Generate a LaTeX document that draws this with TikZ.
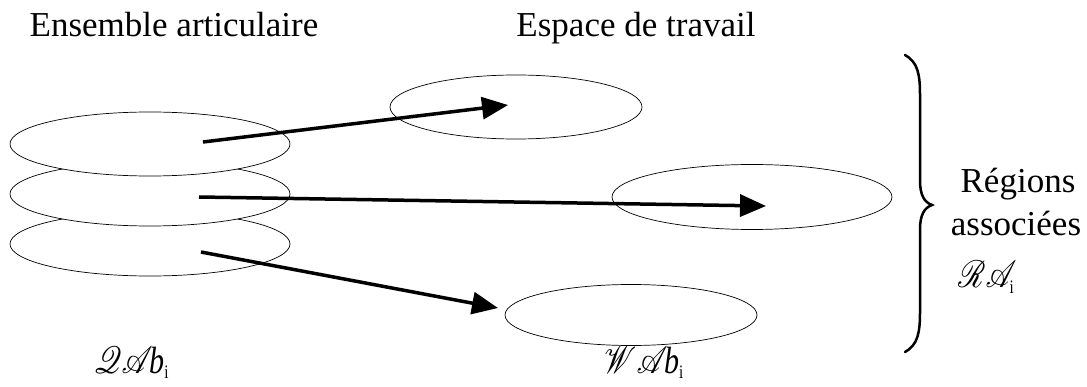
\documentclass[tikz,border=0pt]{standalone}
\usepackage{fontspec}
\setmainfont{Liberation Serif}
\usepackage{mathrsfs}
\usepackage{graphicx}
\usetikzlibrary{arrows.meta,shapes.geometric}
\newcommand{\scrlab}[1]{\scalebox{3}[3.8]{#1}}
\begin{document}
\begin{tikzpicture}[x=1pt,y=-1pt,
  reg/.style={ellipse,draw,fill=white,line width=0.7pt,inner sep=0pt},
  regL/.style={reg,minimum width=280pt,minimum height=64pt},
  regR/.style={reg,minimum width=252pt,minimum height=64pt},
  bigarrow/.style={line width=3.5pt,-{Triangle[length=26pt,width=22pt]}},
  lbl/.style={font=\fontsize{35}{40}\selectfont,inner sep=0pt},
  scr/.style={inner sep=0pt}]
\useasboundingbox (0,0) rectangle (1087,387);
% left stack (bottom drawn first)
\node[regL] (L3) at (150,244) {};
\node[regL] (L2) at (150,194) {};
\node[regL] (L1) at (150,144) {};
% right regions
\node[regR] (R1) at (516,107) {};
\node[reg,minimum width=280pt,minimum height=65pt] (R2) at (752,197) {};
\node[reg,minimum width=252pt,minimum height=61pt] (R3) at (631,315) {};
% arrow anchors
\coordinate (s1) at (203,142);
\coordinate (t1) at (508,105);
\coordinate (s2) at (199,197);
\coordinate (t2) at (766,206);
\coordinate (s3) at (201,252);
\coordinate (t3) at (498,308);
\draw[bigarrow] (s1) -- (t1);
\draw[bigarrow] (s2) -- (t2);
\draw[bigarrow] (s3) -- (t3);
% titles
\node[lbl,anchor=base] (tq) at (174,37) {Ensemble articulaire};
\node[lbl,anchor=base] (tw) at (636,37) {Espace de travail};
\node[lbl,anchor=base] (r1) at (1018,193) {Régions};
\node[lbl,anchor=base] (r2) at (1016,236) {associées};
% script labels
\node[scr,anchor=base west] (qab) at (94,373) {\scrlab{$\mathscr{Q}\mathscr{A}\mkern-2mu\textit{b}_{\scriptscriptstyle\mathrm{i}}$}};
\node[scr,anchor=base west] (wab) at (604,373) {\scrlab{$\mathscr{W}\mathscr{A}\mkern-2mu\textit{b}_{\scriptscriptstyle\mathrm{i}}$}};
\node[scr,anchor=base west] (ra) at (958,288) {\scrlab{$\mathscr{R}\mathscr{A}_{\scriptscriptstyle\mathrm{i}}$}};
% brace
\coordinate (b0) at (905,55);
\coordinate (b1) at (905,352);
\draw[line width=2.5pt,line cap=round] (b0) .. controls (918,62) and (920,75) .. (920,95)
  -- (920,180) .. controls (920,195) and (924,202) .. (932,205)
  .. controls (924,208) and (920,215) .. (920,230)
  -- (920,312) .. controls (920,332) and (918,345) .. (b1);
\end{tikzpicture}
\end{document}
